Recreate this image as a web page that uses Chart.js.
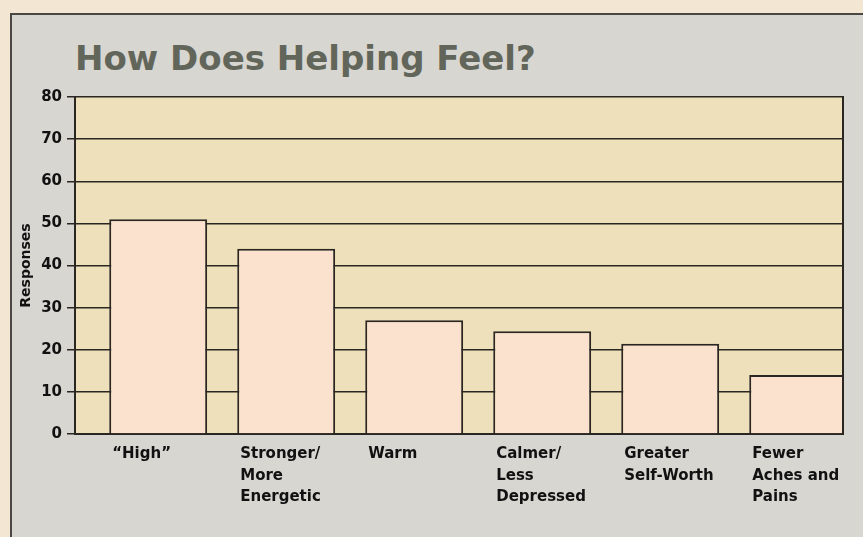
<!DOCTYPE html>
<html>
<head>
<meta charset="utf-8">
<script src="https://cdn.jsdelivr.net/npm/chart.js@4/dist/chart.umd.min.js"></script>
<style>
  html, body { margin: 0; padding: 0; width: 863px; height: 537px; overflow: hidden; background: #f3e7d3; }
  #panel { position: absolute; left: 10px; top: 13px; width: 900px; height: 600px;
           background: #d7d6d1; border-left: 2px solid #4a4844; border-top: 2px solid #4a4844; }
  #title { position: absolute; left: 75px; top: 41px; margin: 0; font: bold 34px/34px "DejaVu Sans";
           color: #62655a; white-space: nowrap; }
  #chart { position: absolute; left: 0; top: 0; }
</style>
</head>
<body>
<div id="panel"></div>
<h1 id="title">How Does Helping Feel?</h1>
<canvas id="chart" width="863" height="537"></canvas>
<script>
const categories = [
  ['\u201CHigh\u201D'],
  ['Stronger/', 'More', 'Energetic'],
  ['Warm'],
  ['Calmer/', 'Less', 'Depressed'],
  ['Greater', 'Self-Worth'],
  ['Fewer', 'Aches and', 'Pains']
];
const responses = [51, 44, 27, 24.4, 21.4, 14];
const yTicks = [0, 10, 20, 30, 40, 50, 60, 70, 80];

const ink = '#2a2622';
const labelFont = { family: 'DejaVu Sans', size: 15, weight: 'bold', lineHeight: 1.45 };

// tan plot background and the right edge of the frame
const plotFrame = {
  id: 'plotFrame',
  beforeDraw(chart) {
    const { ctx, chartArea: a } = chart;
    ctx.save();
    ctx.fillStyle = '#eee0ba';
    ctx.fillRect(a.left, a.top, a.width, a.height);
    ctx.restore();
  },
  afterDatasetsDraw(chart) {
    const { ctx, chartArea: a } = chart;
    ctx.save();
    ctx.strokeStyle = ink;
    ctx.lineWidth = 2;
    ctx.beginPath();
    ctx.moveTo(a.right, a.top - 1);
    ctx.lineTo(a.right, a.bottom);
    ctx.stroke();
    ctx.restore();
  }
};

new Chart(document.querySelector('#chart').getContext('2d'), {
  type: 'bar',
  data: {
    datasets: [{
      label: 'Responses',
      data: responses.map((v, i) => ({ x: i, y: v })),
      backgroundColor: '#fbe2cf',
      borderColor: ink,
      borderWidth: 2,
      barPercentage: 0.765,
      categoryPercentage: 1
    }]
  },
  options: {
    responsive: false,
    animation: false,
    devicePixelRatio: 1,
    layout: { padding: { left: 14, right: 20, top: 97, bottom: 0 } },
    plugins: {
      legend: { display: false },
      tooltip: { enabled: false }
    },
    scales: {
      x: {
        type: 'linear',
        offset: false,
        min: -0.65,
        max: categories.length - 0.65,
        afterBuildTicks: (s) => { s.ticks = categories.map((c, i) => ({ value: i })); },
        afterFit: (s) => { s.height = 103; s.paddingLeft = 0; s.paddingRight = 0; },
        grid: { display: false, drawTicks: false },
        border: { display: true, color: ink, width: 2 },
        ticks: {
          autoSkip: false,
          maxRotation: 0,
          minRotation: 0,
          align: 'start',
          labelOffset: -46,
          padding: 9,
          color: '#111',
          font: labelFont,
          callback: (v) => categories[v] || ''
        }
      },
      y: {
        min: 0,
        max: 80,
        afterBuildTicks: (s) => { s.ticks = yTicks.map(v => ({ value: v })); },
        afterFit: (s) => { s.width = 61; },
        grid: { color: ink, lineWidth: 1.5, drawTicks: true, tickLength: 8, tickColor: ink },
        border: { display: true, color: ink, width: 2 },
        ticks: {
          color: '#111',
          padding: 5,
          font: { family: 'DejaVu Sans', size: 15, weight: 'bold' }
        },
        title: {
          display: true,
          text: 'Responses',
          color: '#111',
          padding: { top: 4, bottom: 0 },
          font: { family: 'DejaVu Sans', size: 14, weight: 'bold' }
        }
      }
    }
  },
  plugins: [plotFrame]
});
</script>
</body>
</html>
